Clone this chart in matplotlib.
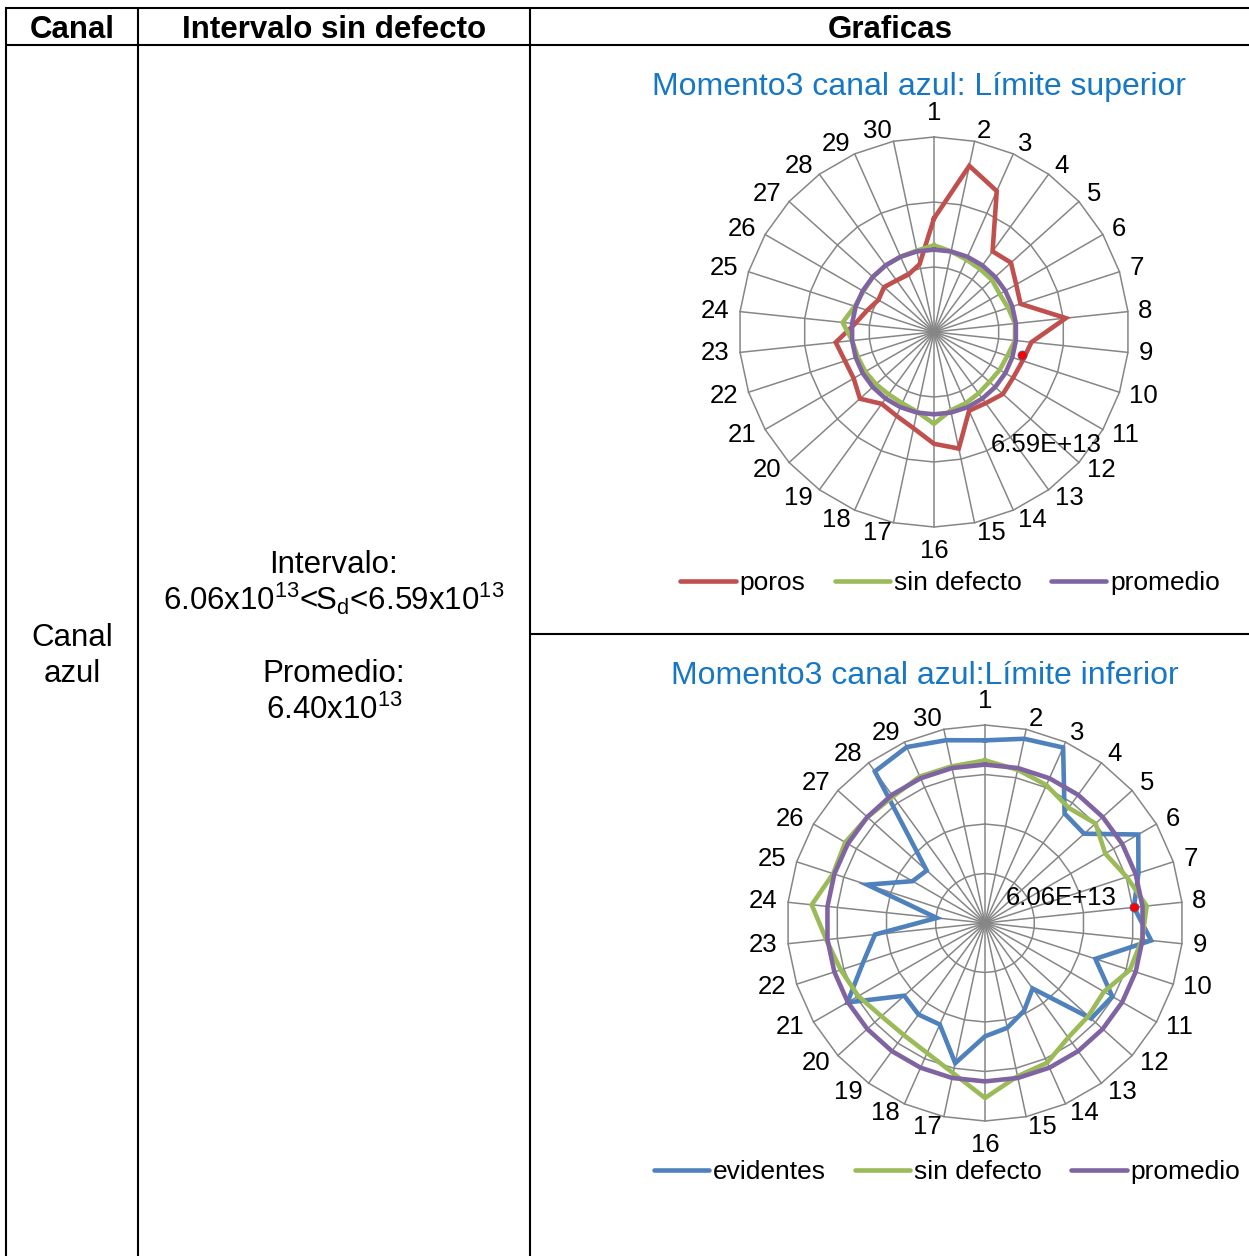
import numpy as np
import matplotlib
matplotlib.use('Agg')
import matplotlib.pyplot as plt
from matplotlib.lines import Line2D

plt.rcParams['font.family'] = ['Liberation Sans', 'DejaVu Sans']
plt.rcParams['mathtext.fontset'] = 'custom'
plt.rcParams['mathtext.rm'] = 'Liberation Sans'
plt.rcParams['mathtext.it'] = 'Liberation Sans:italic'

W, H = 1249, 1256

# --- datos (x1e13) ---
categorias = [str(i) for i in range(1, 31)]

sup_poros = [7.12, 8.42, 8.06, 6.80, 6.89, 6.69, 6.60, 7.56, 6.76, 6.65,
             6.61, 6.64, 6.53, 6.49, 7.25, 7.08, 6.77, 6.62, 6.55, 6.80,
             6.64, 6.66, 6.78, 6.33, 6.12, 5.98, 6.05, 5.97, 5.95, 6.10]
sup_sin_defecto = [6.50, 6.40, 6.33, 6.30, 6.30, 6.25, 6.30, 6.38, 6.38, 6.28,
                   6.25, 6.22, 6.25, 6.30, 6.35, 6.62, 6.38, 6.30, 6.28, 6.30,
                   6.33, 6.35, 6.40, 6.62, 6.42, 6.38, 6.40, 6.40, 6.40, 6.42]
inf_evidentes = [7.38, 7.61, 7.76, 5.47, 5.39, 7.15, 6.52, 6.05, 6.75, 4.69,
                 5.94, 5.77, 3.27, 3.88, 4.33, 4.58, 5.79, 4.49, 4.57, 4.39,
                 6.42, 5.18, 4.47, 1.96, 5.01, 3.38, 3.17, 7.57, 7.78, 7.55]
inf_sin_defecto = [6.57, 6.33, 6.10, 5.75, 6.01, 5.61, 6.02, 6.57, 6.38, 6.15,
                   5.55, 5.62, 5.72, 6.18, 6.33, 7.07, 6.20, 5.75, 5.59, 5.63,
                   5.91, 6.13, 6.45, 7.04, 6.45, 6.52, 6.39, 6.32, 6.48, 6.47]
promedio = [6.40] * 30

lim_sup, lim_sup_pos = 6.59, 9.7   # valor y posicion (en categorias)
lim_inf, lim_inf_pos = 6.06, 8.0

ROJO, VERDE, MORADO, AZUL = '#C0504D', '#9BBB59', '#8064A2', '#4F81BD'
GRIS = '#868686'

fig = plt.figure(figsize=(W / 100, H / 100), dpi=100)

# tabla
tab = fig.add_axes([0, 0, 1, 1])
tab.set_xlim(0, W)
tab.set_ylim(H, 0)
tab.axis('off')
for xs, ys in [([5, W], [8, 8]), ([5, W], [45, 45]), ([6, 6], [8, H]),
               ([138, 138], [8, H]), ([530, 530], [8, H]), ([530, W], [634, 634])]:
    tab.plot(xs, ys, color='black', lw=1.5, solid_capstyle='butt')

for x, s in [(72, 'Canal'), (334, 'Intervalo sin defecto'), (890, 'Graficas')]:
    tab.text(x, 38, s, fontsize=22.5, fontweight='bold', ha='center', va='baseline')

tab.text(72, 646, 'Canal', fontsize=22.5, ha='center', va='baseline')
tab.text(72, 682, 'azul', fontsize=22.5, ha='center', va='baseline')
tab.text(334, 573, 'Intervalo:', fontsize=22.5, ha='center', va='baseline')
tab.text(334, 610, r'6.06x10$^{\mathrm{13}}$<S$_{\mathrm{d}}$<6.59x10$^{\mathrm{13}}$',
         fontsize=22.5, ha='center', va='baseline')
tab.text(334, 682, 'Promedio:', fontsize=22.5, ha='center', va='baseline')
tab.text(334, 719, r'6.40x10$^{\mathrm{13}}$', fontsize=22.5, ha='center', va='baseline')

tab.text(919, 95, 'Momento3 canal azul: Límite superior', fontsize=23,
         color='#1777C4', ha='center', va='baseline')
tab.text(925, 684, 'Momento3 canal azul:Límite inferior', fontsize=23,
         color='#1777C4', ha='center', va='baseline')

n = len(categorias)
ang = 2 * np.pi * np.arange(n) / n


def radar(cx, cy, R, vmin, vmax, nanillos, series, colores):
    h = 1.35 * R
    ax = fig.add_axes([(cx - h) / W, 1 - (cy + h) / H, 2 * h / W, 2 * h / H])
    ax.set_xlim(-1.35, 1.35)
    ax.set_ylim(-1.35, 1.35)
    ax.axis('off')
    ang_c = np.append(ang, ang[0])
    for k in range(1, nanillos + 1):
        r = k / nanillos
        ax.plot(r * np.sin(ang_c), r * np.cos(ang_c), color=GRIS, lw=1.1)
    for a in ang:
        ax.plot([0, np.sin(a)], [0, np.cos(a)], color=GRIS, lw=1.1)
    # etiquetas de categoria: arriba/abajo centradas, el resto pegadas al anillo
    for lab, a in zip(categorias, ang):
        s, c = np.sin(a), np.cos(a)
        if abs(s) < 1e-6:
            r, ha = 1 + 24 / R, 'center'
        else:
            r, ha = 1 + 10.5 / R, ('left' if s > 0 else 'right')
        ax.text(r * s, r * c, lab, fontsize=18.5, ha=ha, va='center')
    for vals, col in zip(series, colores):
        r = (np.array(vals + vals[:1]) - vmin) / (vmax - vmin)
        ax.plot(r * np.sin(ang_c), r * np.cos(ang_c), color=col, lw=3.3,
                solid_joinstyle='miter')
    return ax


def marca(ax, vmin, vmax, val, pos, off):
    a = 2 * np.pi * (pos - 1) / n
    r = (val - vmin) / (vmax - vmin)
    ax.plot(r * np.sin(a), r * np.cos(a), 'o', ms=6.5, mfc='red', mec='#44619D', mew=0.6)
    ax.annotate(f'{val * 1e13:.2E}', (r * np.sin(a), r * np.cos(a)), xytext=off,
                textcoords='offset pixels', fontsize=18.5, ha='center', va='center')


ax1 = radar(934, 332, 195, 4.5, 9.0, 3, [sup_poros, sup_sin_defecto, promedio],
            [ROJO, VERDE, MORADO])
marca(ax1, 4.5, 9.0, lim_sup, lim_sup_pos, (25, -90))

ax2 = radar(985, 923, 198, 0.0, 8.0, 4, [inf_evidentes, inf_sin_defecto, promedio],
            [AZUL, VERDE, MORADO])
marca(ax2, 0.0, 8.0, lim_inf, lim_inf_pos, (-73, 9))


def leyenda(nombres, colores, cx, cy):
    hs = [Line2D([], [], color=c, lw=3.3, solid_capstyle='round') for c in colores]
    fig.legend(hs, nombres, loc='center', bbox_to_anchor=(cx / W, 1 - cy / H), ncol=3,
               frameon=False, fontsize=19, handlelength=2.1, handletextpad=0.15,
               columnspacing=1.1, borderpad=0, borderaxespad=0)


leyenda(['poros', 'sin defecto', 'promedio'], [ROJO, VERDE, MORADO], 950, 583)
leyenda(['evidentes', 'sin defecto', 'promedio'], [AZUL, VERDE, MORADO], 947, 1172)

fig.savefig('out.png', dpi=100)
